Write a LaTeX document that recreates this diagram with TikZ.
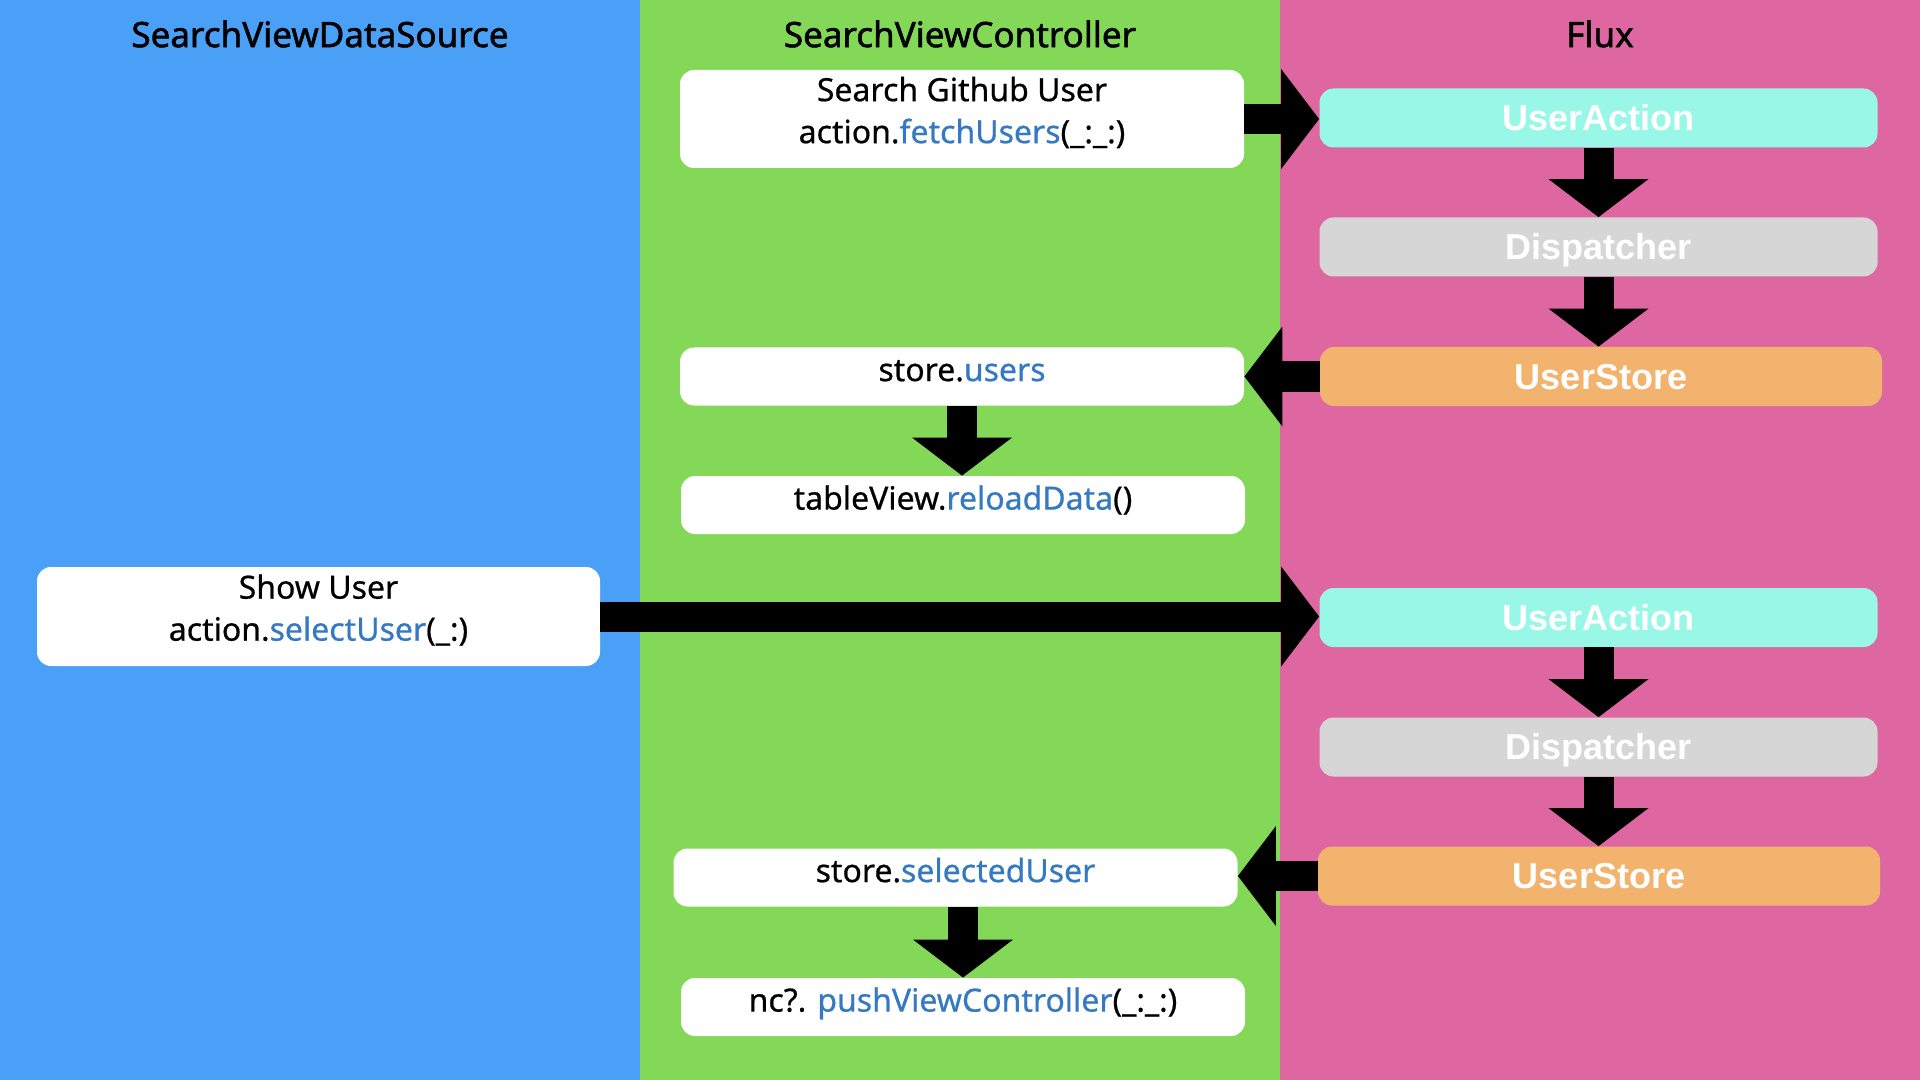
\documentclass[tikz,border=0pt]{standalone}
\usepackage{fontspec}
\setmainfont{Noto Sans}[FakeBold=0.6]
\newfontfamily\lanefont{Noto Sans}[FakeBold=1.6]
\newfontfamily\fluxfont{Liberation Sans}
\usetikzlibrary{arrows.meta, positioning}

\definecolor{srcblue}{RGB}{74,160,247}
\definecolor{ctrlgreen}{RGB}{132,216,88}
\definecolor{fluxpink}{RGB}{222,103,162}
\definecolor{actioncyan}{RGB}{153,247,232}
\definecolor{dispgray}{RGB}{214,214,214}
\definecolor{storeorange}{RGB}{242,179,110}
\definecolor{codeblue}{RGB}{52,121,193}

\newcommand{\code}[1]{\textcolor{codeblue}{#1}}

\begin{document}
\begin{tikzpicture}[x=0.5pt, y=-0.5pt,
    lane/.style={font=\lanefont\fontsize{17.5}{19}\selectfont},
    callbox/.style={fill=white, rounded corners=7pt, align=center, inner sep=0pt,
        minimum width=282pt, minimum height=29pt, text height=12pt, text depth=7.4pt,
        font=\fontsize{16}{21}\selectfont},
    callpair/.style={fill=white, rounded corners=7pt, align=center, inner sep=0pt,
        minimum width=282pt, minimum height=49pt, text depth=9pt,
        font=\fontsize{16}{21}\selectfont},
    fluxbox/.style={rounded corners=7pt, inner sep=0pt, minimum width=279pt,
        minimum height=29.5pt, text height=12.9pt, text depth=0pt, text=white,
        font=\fluxfont\bfseries\fontsize{18}{20}\selectfont},
    bigarrow/.style={line width=15pt, -{Triangle[width=50pt, length=19pt, line width=0pt]}}
]
    % lanes
    \fill[srcblue] (0,0) rectangle (640,1080);
    \fill[ctrlgreen] (640,0) rectangle (1280,1080);
    \fill[fluxpink] (1280,0) rectangle (1920,1080);

    \node[lane] (srchead) at (320,34) {SearchViewDataSource};
    \node[lane] (ctrlhead) at (960,34) {SearchViewController};
    \node[lane] (fluxhead) at (1600,34) {Flux};

    % SearchViewController
    \node[callpair] (fetch) at (962,119) {Search Github User\\action.\code{fetchUsers}(\_:\_:)};
    \node[callbox] (users) at (962,376.5) {store.\code{users}};
    \node[callbox] (reload) at (963,505) {tableView.\code{reloadData}()};
    \node[callbox] (selected) at (955.5,877.5) {store.\code{selectedUser}};
    \node[callbox] (push) at (963,1007) {nc?. \code{pushViewController}(\_:\_:)};

    % SearchViewDataSource
    \node[callpair, minimum width=281.5pt, minimum height=49.5pt] (showuser) at (318.5,616.5) {Show User\\action.\code{selectUser}(\_:)};

    % Flux
    \node[fluxbox, fill=actioncyan] (action1) at (1598.5,118) {UserAction};
    \node[fluxbox, fill=dispgray] (disp1) at (1598.5,247) {Dispatcher};
    \node[fluxbox, fill=storeorange, minimum width=281pt] (store1) at (1601,376.5) {UserStore};
    \node[fluxbox, fill=actioncyan] (action2) at (1598.5,617.5) {UserAction};
    \node[fluxbox, fill=dispgray] (disp2) at (1598.5,747) {Dispatcher};
    \node[fluxbox, fill=storeorange, minimum width=281pt] (store2) at (1599,876) {UserStore};

    % arrows
    \draw[bigarrow] (fetch.east) -- (fetch.east -| action1.west);
    \draw[bigarrow] (action1.south) -- (disp1.north);
    \draw[bigarrow] (disp1.south) -- (disp1.south |- store1.north);
    \draw[bigarrow] (store1.west) -- (store1.west -| users.east);
    \draw[bigarrow] (users.south) -- (users.south |- reload.north);
    \draw[bigarrow] (showuser.east) -- (showuser.east -| action2.west);
    \draw[bigarrow] (action2.south) -- (disp2.north);
    \draw[bigarrow] (disp2.south) -- (disp2.south |- store2.north);
    \draw[bigarrow] (store2.west) -- (store2.west -| selected.east);
    \draw[bigarrow] (push.north |- selected.south) -- (push.north);
\end{tikzpicture}
\end{document}
